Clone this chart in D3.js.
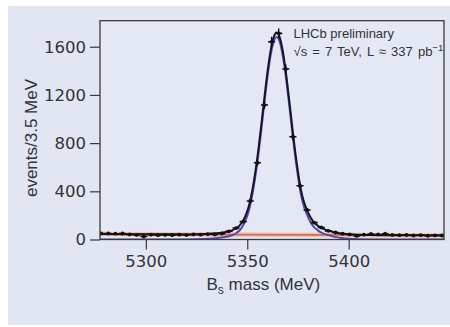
<!DOCTYPE html>
<html>
<head>
<meta charset="utf-8">
<script src="https://cdn.jsdelivr.net/npm/d3@7"></script>
<style>
  html, body { margin: 0; padding: 0; background: #fff; }
  svg { display: block; }
</style>
</head>
<body>
<div id="chart"></div>
<script>
// bin centres (MeV) and counts per 3.5 MeV
const binMass = [5278, 5281.5, 5285, 5288.5, 5292, 5295.5, 5299, 5302.5, 5306, 5309.5,
  5313, 5316.5, 5320, 5323.5, 5327, 5330.5, 5334, 5337.5, 5341, 5344.5,
  5348, 5351.5, 5355, 5358.5, 5362, 5365.5, 5369, 5372.5, 5376, 5379.5,
  5383, 5386.5, 5390, 5393.5, 5397, 5400.5, 5404, 5407.5, 5411, 5414.5,
  5418, 5421.5, 5425, 5428.5, 5432, 5435.5, 5439, 5442.5, 5446];
const binCount = [50, 50, 48, 50, 42, 38, 25, 40, 36, 38,
  36, 40, 37, 42, 40, 44, 42, 50, 68, 95,
  148, 320, 637, 1116, 1641, 1711, 1415, 853, 446, 245,
  140, 100, 72, 58, 48, 42, 30, 40, 46, 42,
  48, 38, 36, 38, 33, 36, 31, 34, 33];
const binErr = [7, 7, 7, 7, 6, 6, 5, 6, 6, 6,
  6, 6, 6, 6, 6, 7, 6, 7, 8, 10,
  12, 18, 25, 33, 41, 41, 38, 29, 21, 16,
  12, 10, 8, 8, 7, 6, 5, 6, 7, 6,
  7, 6, 6, 6, 6, 6, 6, 6, 6];

// fit curves
const fitMass = [5277.4, 5290, 5300, 5310, 5320, 5328.5, 5332.5, 5336.5, 5339.5, 5342.5,
  5344.5, 5346.5, 5348, 5349.5, 5351, 5352.5, 5354, 5355.5, 5357, 5358.5,
  5360, 5361.5, 5363, 5364.5, 5366, 5367.5, 5369, 5370.5, 5372, 5373.5,
  5375, 5376.5, 5378, 5379.5, 5381, 5382.5, 5384.5, 5386.5, 5389.5, 5392.5,
  5396.5, 5400.5, 5410, 5420, 5430, 5447];
const fitTotal = [45, 44, 44, 43, 42, 46, 49, 55, 63, 76,
  93, 122, 158, 213, 291, 410, 564, 749, 962, 1184,
  1394, 1566, 1679, 1719, 1679, 1565, 1393, 1183, 961, 748,
  563, 409, 309, 243, 188, 150, 118, 96, 76, 62,
  49, 43, 37, 36, 35, 34];
const fitSignal = [0, 0, 0, 0, 0, 4, 8, 14, 22, 35,
  52, 81, 118, 173, 251, 370, 524, 709, 922, 1144,
  1354, 1526, 1640, 1680, 1640, 1526, 1354, 1144, 922, 709,
  524, 370, 270, 205, 150, 112, 80, 58, 38, 24,
  12, 6, 1, 0, 0, 0];
const bkgMass = [5277.4, 5447];
const bkgCount = [45, 34];

const xTicks = [5300, 5350, 5400];
const yTicks = [0, 400, 800, 1200, 1600];

let width = 450, height = 327;
let margin = { left: 100, top: 20.7, right: 6, bottom: 87.5 };

let svg = d3.select("#chart")
  .append("svg")
  .attr("width", width)
  .attr("height", height);

svg.append("rect")
  .attr("x", 8).attr("y", 6)
  .attr("width", width - 8).attr("height", 319)
  .attr("fill", "#e2e6f3");

let x = d3.scaleLinear()
  .domain([5277.4, 5447])
  .range([margin.left, width - margin.right]);

let y = d3.scaleLinear()
  .domain([0, 1816])
  .range([height - margin.bottom, margin.top]);

svg.append("clipPath").attr("id", "clip")
  .append("rect")
  .attr("x", margin.left).attr("y", margin.top)
  .attr("width", width - margin.left - margin.right)
  .attr("height", height - margin.top - margin.bottom);

svg.append("rect")
  .attr("x", margin.left).attr("y", margin.top)
  .attr("width", width - margin.left - margin.right)
  .attr("height", height - margin.top - margin.bottom)
  .attr("fill", "#e4e8f5");

let xAxis = svg.append("g")
  .attr("transform", "translate(0," + (height - margin.bottom) + ")")
  .call(d3.axisBottom(x).tickValues(xTicks).tickSize(10).tickPadding(6).tickFormat(d3.format("d")));

let yAxis = svg.append("g")
  .attr("transform", "translate(" + margin.left + ",0)")
  .call(d3.axisLeft(y).tickValues(yTicks).tickSize(10).tickPadding(4).tickFormat(d3.format("d")));

[xAxis, yAxis].forEach(function (a) {
  a.select(".domain").remove();
  a.selectAll("line").attr("stroke", "#3a3a3a").attr("stroke-width", 1.2);
  a.selectAll("text")
    .attr("fill", "#333")
    .style("font-family", "DejaVu Sans")
    .style("font-size", "16.5px");
});

let plot = svg.append("g").attr("clip-path", "url(#clip)");

let line = d3.line()
  .x(function (d) { return x(d[0]); })
  .y(function (d) { return y(d[1]); })
  .curve(d3.curveMonotoneX);

let bkgData = bkgMass.map(function (m, i) { return [m, bkgCount[i]]; });
plot.append("path")
  .datum(bkgData)
  .attr("d", line)
  .attr("fill", "none")
  .attr("stroke", "#f2c0b2")
  .attr("stroke-width", 4.5);
plot.append("path")
  .datum(bkgData)
  .attr("d", line)
  .attr("fill", "none")
  .attr("stroke", "#cf6e58")
  .attr("stroke-width", 1.8);

plot.append("path")
  .datum(fitMass.map(function (m, i) { return [m, fitSignal[i]]; }))
  .attr("d", line)
  .attr("fill", "none")
  .attr("stroke", "#5848a8")
  .attr("stroke-width", 2);

plot.append("path")
  .datum(fitMass.map(function (m, i) { return [m, fitTotal[i]]; }))
  .attr("d", line)
  .attr("fill", "none")
  .attr("stroke", "#15152a")
  .attr("stroke-width", 2);

let pts = plot.append("g")
  .selectAll("g")
  .data(binMass.map(function (m, i) { return { m: m, n: binCount[i], e: binErr[i] }; }))
  .enter()
  .append("g");

pts.append("line")
  .attr("x1", function (d) { return x(d.m - 1.75); })
  .attr("x2", function (d) { return x(d.m + 1.75); })
  .attr("y1", function (d) { return y(d.n); })
  .attr("y2", function (d) { return y(d.n); })
  .attr("stroke", "#111")
  .attr("stroke-width", 1.6);

pts.append("line")
  .attr("x1", function (d) { return x(d.m); })
  .attr("x2", function (d) { return x(d.m); })
  .attr("y1", function (d) { return y(d.n - d.e); })
  .attr("y2", function (d) { return y(d.n + d.e); })
  .attr("stroke", "#111")
  .attr("stroke-width", 1.4);

pts.append("circle")
  .attr("cx", function (d) { return x(d.m); })
  .attr("cy", function (d) { return y(d.n); })
  .attr("r", 1.9)
  .attr("fill", "#111");

// frame
svg.append("rect")
  .attr("x", margin.left).attr("y", margin.top)
  .attr("width", width - margin.left - margin.right)
  .attr("height", height - margin.top - margin.bottom)
  .attr("fill", "none")
  .attr("stroke", "#3a3a3a")
  .attr("stroke-width", 1.3);

svg.append("text")
  .attr("transform", "translate(37,138) rotate(-90)")
  .attr("text-anchor", "middle")
  .attr("fill", "#333")
  .style("font-family", "Liberation Sans, Arial")
  .style("font-size", "17px")
  .text("events/3.5 MeV");

let xt = svg.append("text")
  .attr("x", 206.5).attr("y", 290)
  .attr("fill", "#333")
  .style("font-family", "Liberation Sans, Arial")
  .style("font-size", "17px");
xt.append("tspan").text("B");
xt.append("tspan").attr("dy", 4).style("font-size", "12px").text("s");
xt.append("tspan").attr("dy", -4).text(" mass (MeV)");

let note = svg.append("g")
  .attr("fill", "#333")
  .style("font-family", "Liberation Sans, Arial")
  .style("font-size", "13px");
note.append("text").attr("x", 293.5).attr("y", 38).text("LHCb preliminary");
let l2 = note.append("text").attr("x", 293.5).attr("y", 55.5)
  .style("word-spacing", "1.5px");
l2.append("tspan").text("\u221As = 7 TeV, L \u2248 337 pb");
l2.append("tspan").attr("dy", -5).style("font-size", "9.5px").text("\u22121");
</script>
</body>
</html>
